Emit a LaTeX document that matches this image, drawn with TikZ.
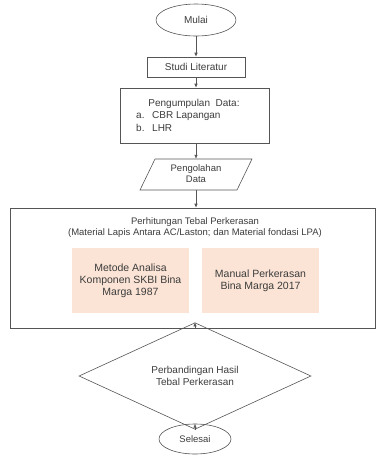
\documentclass[tikz,border=0pt]{standalone}
\usepackage{fontspec}
\setmainfont{Liberation Sans}
\usetikzlibrary{shapes.geometric,arrows.meta}
\definecolor{ln}{RGB}{85,85,85}
\definecolor{tx}{RGB}{60,60,60}
\definecolor{salmon}{RGB}{251,228,213}
\tikzset{
  base/.style={draw=ln, line width=0.6pt, text=tx, inner sep=0pt, align=center, font=\fontsize{10}{12}\selectfont},
  oval/.style={base, ellipse},
  boxnode/.style={base, rectangle},
  fillbox/.style={rectangle, fill=salmon, text=tx, inner sep=0pt, align=center, font=\fontsize{10.5}{12}\selectfont},
  txt/.style={text=tx, inner sep=0pt, font=\fontsize{10}{12}\selectfont},
  ttl/.style={text=tx, inner sep=0pt, font=\fontsize{9.5}{11}\selectfont},
  dec/.style={base, diamond},
  arr/.style={draw=ln, line width=0.6pt, -{Latex[length=4pt,width=3.5pt]}}
}
\begin{document}
\begin{tikzpicture}[x=1pt,y=-1pt]
\useasboundingbox (0,0) rectangle (377,459);
\node[oval, minimum width=80pt, minimum height=32pt] (mulai) at (196,20) {Mulai};
\node[boxnode, minimum width=98pt, minimum height=20pt] (studi) at (196,67) {Studi Literatur};
\node[boxnode, minimum width=149pt, minimum height=55pt] (pd) at (194.5,115.5) {};
\node[txt] (pd1) at (194,104) {Pengumpulan\ \ Data:};
\node[txt, anchor=west] (pda) at (136,116) {a.};
\node[txt, anchor=west] (pdat) at (152,116) {CBR Lapangan};
\node[txt, anchor=west] (pdb) at (136,128) {b.};
\node[txt, anchor=west] (pdbt) at (152,128) {LHR};
\node[inner sep=0pt, minimum width=94pt, minimum height=31pt] (olah) at (196,174.5) {};
\draw[ln, line width=0.6pt] (155,159) -- (252,159) -- (237,190) -- (140,190) -- cycle;
\node[txt, align=center, font=\fontsize{9.5}{10.5}\selectfont] (olaht) at (196,173.5) {Pengolahan\\Data};
\node[boxnode, minimum width=365pt, minimum height=120pt] (big) at (192.5,268) {};
\node[ttl] (t1) at (195,222) {Perhitungan Tebal Perkerasan};
\node[ttl] (t2) at (195,233.5) {(Material Lapis Antara AC/Laston; dan Material fondasi LPA)};
\node[fillbox, minimum width=117pt, minimum height=65pt] (m1) at (130.5,280.5) {Metode Analisa\\Komponen SKBI Bina\\Marga 1987};
\node[fillbox, minimum width=117pt, minimum height=65pt] (m2) at (260.5,280.5) {Manual Perkerasan\\Bina Marga 2017};
\node[dec, minimum width=232pt, minimum height=62pt] (banding) at (195,376) {Perbandingan Hasil\\Tebal Perkerasan};
\node[oval, minimum width=72pt, minimum height=30pt, font=\fontsize{9.5}{11}\selectfont] (selesai) at (195,439) {Selesai};
\draw[arr] (mulai.south -| studi.north) -- (studi.north);
\draw[arr] (studi.south) -- (studi.south |- pd.north);
\draw[arr] (pd.south -| olah.north) -- (olah.north);
\draw[arr] (olah.south) -- (olah.south |- big.north);
\draw[arr] (big.south -| banding.north) -- (banding.north);
\draw[arr] (banding.south) -- (selesai.north);
\end{tikzpicture}
\end{document}
